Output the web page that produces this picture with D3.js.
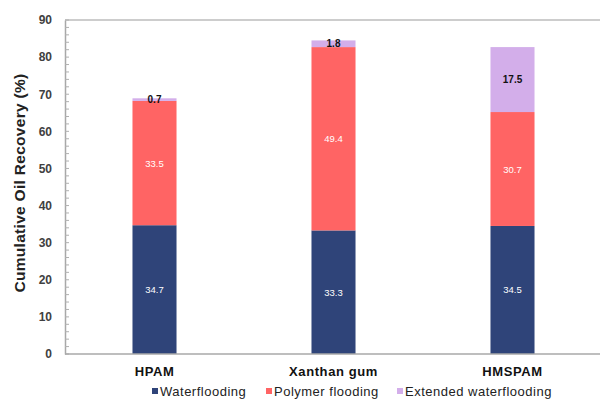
<!DOCTYPE html>
<html><head><meta charset="utf-8">
<script src="https://cdn.jsdelivr.net/npm/d3@7"></script>
<style>body{margin:0;background:#fff}svg{display:block;font-family:"Liberation Sans",Arial,sans-serif}</style>
</head><body><svg id="c" width="600" height="399"></svg>
<script>
const categories = ["HPAM", "Xanthan gum", "HMSPAM"];
const seriesNames = ["Waterflooding", "Polymer flooding", "Extended waterflooding"];
const waterflooding = [34.7, 33.3, 34.5];
const polymerFlooding = [33.5, 49.4, 30.7];
const extendedWaterflooding = [0.7, 1.8, 17.5];
const yTicks = [0, 10, 20, 30, 40, 50, 60, 70, 80, 90];
const colors = ["#2f4479", "#ff6464", "#d3aeea"];
const labelColors = ["#fff", "#fff", "#111"];

const rows = categories.map((c, i) => ({cat: c, s0: waterflooding[i], s1: polymerFlooding[i], s2: extendedWaterflooding[i]}));
const stack = d3.stack().keys(["s0", "s1", "s2"])(rows);

const svg = d3.select("#c");
const L = 65, R = 602, T = 20, B = 354;
const x = d3.scaleBand().domain(categories).range([L, R]).paddingInner(0.754).paddingOuter(0.377);
const y = d3.scaleLinear().domain([0, 90]).range([B, T]);

// top frame line
svg.append("line").attr("x1", L).attr("x2", 600).attr("y1", T).attr("y2", T).attr("stroke", "#bdbdbd").attr("stroke-width", 1.5);

// bars
stack.forEach((layer, k) => {
  const g = svg.append("g");
  g.selectAll("rect").data(layer).join("rect")
    .attr("x", d => x(d.data.cat))
    .attr("width", x.bandwidth())
    .attr("y", d => y(d[1]))
    .attr("height", d => y(d[0]) - y(d[1]))
    .attr("fill", colors[k]);
  g.selectAll("text").data(layer).join("text")
    .attr("x", d => x(d.data.cat) + x.bandwidth() / 2)
    .attr("y", d => (y(d[0]) + y(d[1])) / 2 + 3.5)
    .attr("text-anchor", "middle")
    .attr("font-size", k === 2 ? 10 : 9.5)
    .attr("font-weight", k === 2 ? "bold" : "normal")
    .attr("fill", labelColors[k])
    .text(d => (d[1] - d[0]).toFixed(1));
});

// y axis
const yAxis = svg.append("g").attr("transform", `translate(${L},0)`)
  .call(d3.axisLeft(y).tickValues(yTicks).tickSize(0).tickPadding(13));
yAxis.select(".domain").attr("stroke", "#a8a8a8").attr("stroke-width", 1.5);
yAxis.selectAll("text").attr("font-size", 12).attr("font-weight", "bold").attr("fill", "#404040")
  .attr("font-family", "Liberation Sans, Arial, sans-serif");
// minor ticks inside
const minor = d3.range(0, 90.1, 2);
svg.append("g").selectAll("line").data(minor).join("line")
  .attr("x1", L).attr("x2", L + 4)
  .attr("y1", d => y(d)).attr("y2", d => y(d))
  .attr("stroke", "#b0b0b0").attr("stroke-width", 1);

// x axis
const xAxis = svg.append("g").attr("transform", `translate(0,${B})`)
  .call(d3.axisBottom(x).tickSize(0).tickPadding(13));
xAxis.select(".domain").remove();
svg.append("line").attr("x1", L).attr("x2", 600).attr("y1", B).attr("y2", B).attr("stroke", "#a8a8a8").attr("stroke-width", 1.5);
xAxis.selectAll("text").attr("font-size", 13).attr("font-weight", "bold").attr("fill", "#111")
  .attr("letter-spacing", "0.6px")
  .attr("font-family", "Liberation Sans, Arial, sans-serif");

// y title
svg.append("text").attr("transform", "translate(25,183) rotate(-90)")
  .attr("text-anchor", "middle").attr("font-size", 15.5).attr("font-weight", "bold").attr("fill", "#222")
  .attr("letter-spacing", "0.3px")
  .text("Cumulative Oil Recovery (%)");

// legend
const legX = [152, 266, 397];
const leg = svg.append("g").selectAll("g").data(seriesNames).join("g")
  .attr("transform", (d, i) => `translate(${legX[i]},396)`);
leg.append("rect").attr("x", 0).attr("y", -8).attr("width", 6).attr("height", 6).attr("fill", (d, i) => colors[i]);
leg.append("text").attr("x", 8).attr("y", 0).attr("font-size", 13).attr("letter-spacing", "0.5px").attr("fill", "#222").text(d => d);
</script></body></html>
